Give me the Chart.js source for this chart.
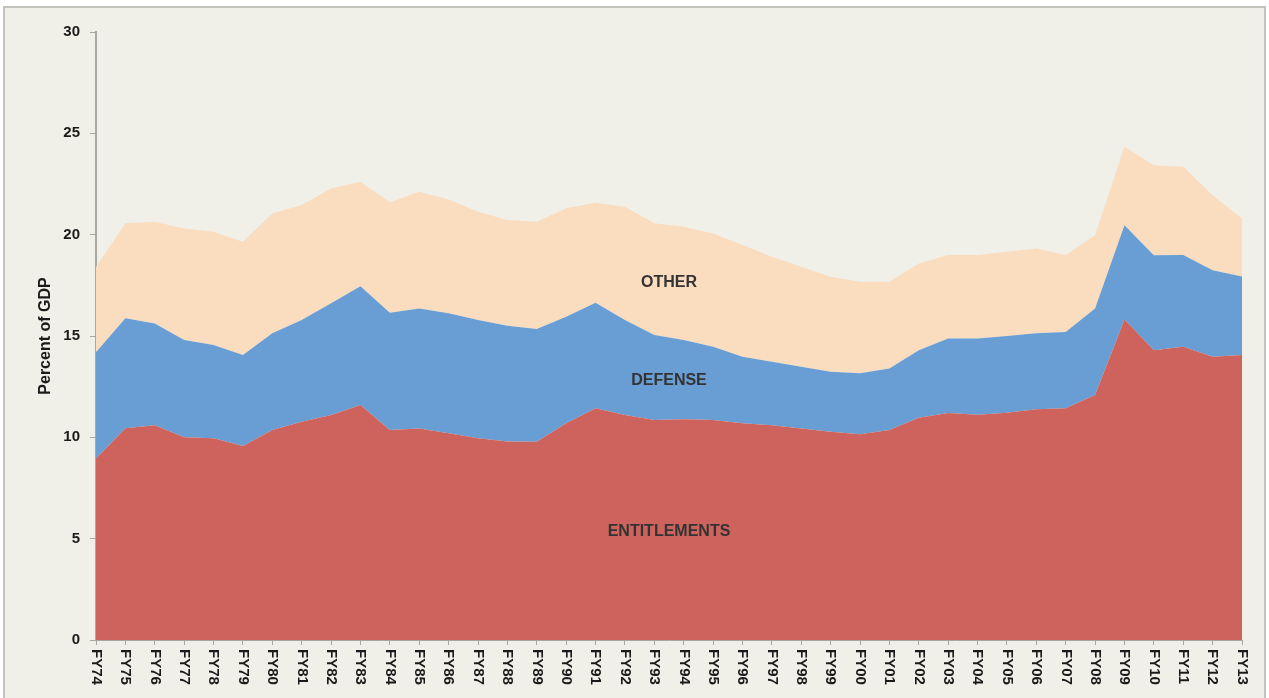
<!DOCTYPE html>
<html>
<head>
<meta charset="utf-8">
<script src="https://cdn.jsdelivr.net/npm/chart.js@4.4.1/dist/chart.umd.min.js"></script>
<style>
  html, body { margin: 0; padding: 0; background: #ffffff; }
  body { width: 1269px; height: 698px; position: relative; overflow: hidden; }
  #frame { position: absolute; left: 3px; top: 6px; width: 1259px; height: 700px; background: #f1f0e8; border: 2px solid #c4c2bc; border-bottom: none; }
  #wrap { position: absolute; left: 0; top: 0; width: 1269px; height: 698px; }
</style>
</head>
<body>
<div id="frame"></div>
<div id="wrap"><canvas id="chart"></canvas></div>
<script>
// fiscal years
const years = ['FY74','FY75','FY76','FY77','FY78','FY79','FY80','FY81','FY82','FY83',
               'FY84','FY85','FY86','FY87','FY88','FY89','FY90','FY91','FY92','FY93',
               'FY94','FY95','FY96','FY97','FY98','FY99','FY00','FY01','FY02','FY03',
               'FY04','FY05','FY06','FY07','FY08','FY09','FY10','FY11','FY12','FY13'];

// percent of GDP (stacked)
const entitlements = [8.95, 10.45, 10.6, 10.0, 9.95, 9.57, 10.36, 10.77, 11.1, 11.59,
                      10.36, 10.44, 10.2, 9.95, 9.8, 9.78, 10.69, 11.43, 11.1, 10.85,
                      10.89, 10.85, 10.69, 10.6, 10.44, 10.28, 10.15, 10.36, 10.97, 11.2,
                      11.12, 11.21, 11.38, 11.43, 12.09, 15.82, 14.3, 14.47, 13.98, 14.06];
const defenseTop   = [14.2, 15.87, 15.62, 14.8, 14.55, 14.06, 15.13, 15.79, 16.61, 17.46,
                      16.15, 16.36, 16.12, 15.79, 15.51, 15.34, 15.95, 16.64, 15.79, 15.05,
                      14.8, 14.47, 13.98, 13.73, 13.48, 13.24, 13.16, 13.4, 14.3, 14.88,
                      14.88, 15.0, 15.13, 15.2, 16.36, 20.47, 18.99, 19.0, 18.25, 17.93];
const totalTop     = [18.4, 20.56, 20.64, 20.31, 20.14, 19.65, 21.05, 21.46, 22.28, 22.61,
                      21.6, 22.12, 21.74, 21.13, 20.72, 20.64, 21.3, 21.57, 21.38, 20.56,
                      20.39, 20.06, 19.49, 18.91, 18.42, 17.92, 17.68, 17.68, 18.58, 19.0,
                      19.0, 19.16, 19.32, 19.0, 19.98, 24.34, 23.43, 23.35, 21.95, 20.8];

const defense = defenseTop.map((v, i) => +(v - entitlements[i]).toFixed(2));
const other = totalTop.map((v, i) => +(v - defenseTop[i]).toFixed(2));

const yTicks = [0, 5, 10, 15, 20, 25, 30];

// text placed inside the areas (category index, value)
const areaLabels = [
  { text: 'OTHER', x: 19.5, y: 17.65 },
  { text: 'DEFENSE', x: 19.5, y: 12.8 },
  { text: 'ENTITLEMENTS', x: 19.5, y: 5.35 }
];

const axisGray = '#a9a7a2';
const fontFam = '"Liberation Sans", Arial, sans-serif';

const labelsPlugin = {
  id: 'labelsPlugin',
  afterDraw(chart) {
    const ctx = chart.ctx;
    const xs = chart.scales.x, ys = chart.scales.y;
    const area = chart.chartArea;
    ctx.save();
    // rotated year labels, reading top to bottom
    ctx.fillStyle = '#1a1a1a';
    ctx.font = 'bold 15px ' + fontFam;
    ctx.textAlign = 'left';
    ctx.textBaseline = 'middle';
    years.forEach((y, i) => {
      ctx.save();
      ctx.translate(xs.getPixelForValue(i), area.bottom + 9);
      ctx.rotate(Math.PI / 2);
      ctx.fillText(y, 0, 0);
      ctx.restore();
    });
    // y title
    ctx.save();
    ctx.translate(46, (area.top + area.bottom) / 2);
    ctx.rotate(-Math.PI / 2);
    ctx.textAlign = 'center';
    ctx.font = 'bold 16px ' + fontFam;
    ctx.fillText('Percent of GDP', 0, 0);
    ctx.restore();
    // area names
    ctx.font = 'bold 16px ' + fontFam;
    ctx.fillStyle = '#333333';
    ctx.textAlign = 'center';
    areaLabels.forEach(l => {
      ctx.fillText(l.text, xs.getPixelForValue(l.x), ys.getPixelForValue(l.y));
    });
    ctx.restore();
  }
};

new Chart(document.getElementById('chart').getContext('2d'), {
  type: 'line',
  data: {
    labels: years,
    datasets: [
      { label: 'Entitlements', data: entitlements, backgroundColor: '#cd635c', fill: 'origin' },
      { label: 'Defense', data: defense, backgroundColor: '#699ed4', fill: '-1' },
      { label: 'Other', data: other, backgroundColor: '#fadcbf', fill: '-1' }
    ]
  },
  options: {
    responsive: true,
    maintainAspectRatio: false,
    animation: false,
    elements: { point: { radius: 0 }, line: { borderWidth: 0, tension: 0 } },
    layout: { padding: { top: 32, right: 27, left: 0, bottom: 0 } },
    plugins: { legend: { display: false }, tooltip: { enabled: false } },
    scales: {
      x: {
        offset: false,
        grid: { display: true, drawOnChartArea: false, drawTicks: true, tickLength: 5, color: axisGray },
        border: { display: true, color: axisGray, width: 1 },
        ticks: { display: false },
        afterFit: s => { s.height = 58; }
      },
      y: {
        stacked: true,
        min: 0, max: 30,
        afterBuildTicks: s => { s.ticks = yTicks.map(v => ({ value: v })); },
        grid: { display: true, drawOnChartArea: false, drawTicks: true, tickLength: 6, color: axisGray },
        border: { display: true, color: axisGray, width: 2 },
        ticks: { color: '#1a1a1a', padding: 10, font: { family: fontFam, size: 15, weight: 'bold' } },
        afterFit: s => { s.width = 96; }
      }
    }
  },
  plugins: [labelsPlugin]
});
</script>
</body>
</html>
